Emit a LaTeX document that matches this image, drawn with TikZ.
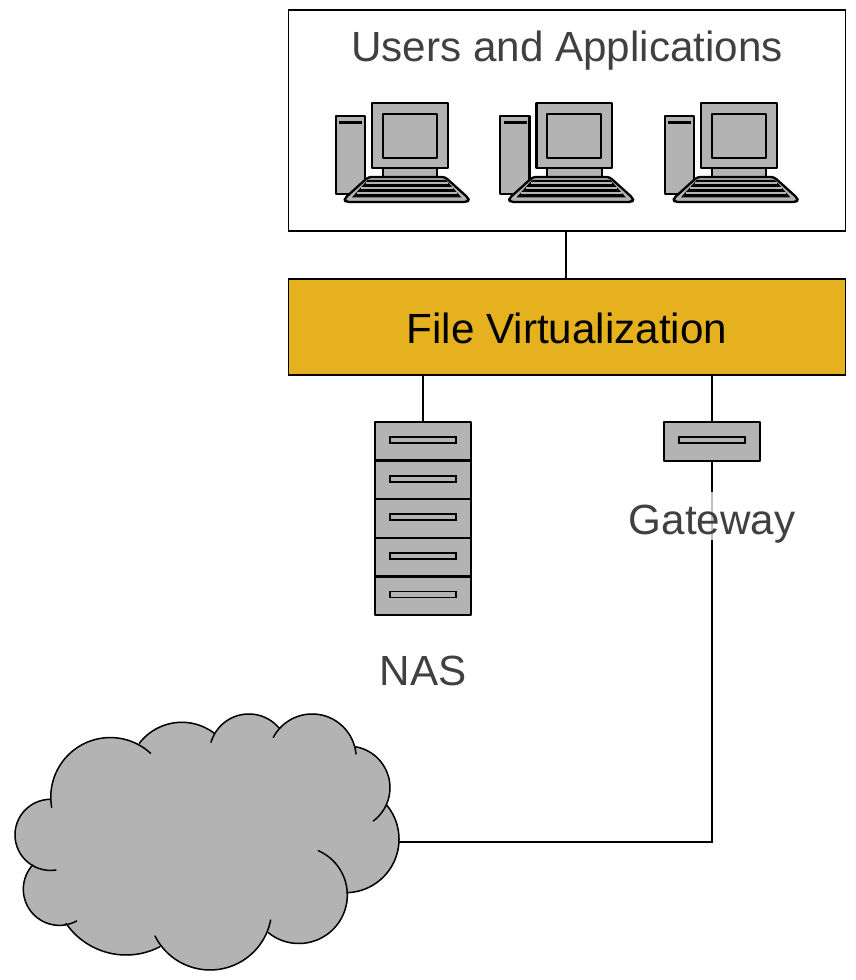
\documentclass[tikz,border=0pt]{standalone}
\usepackage{fontspec}
\setmainfont{Liberation Sans}
\definecolor{devgray}{HTML}{B3B3B3}
\definecolor{gold}{HTML}{E6B11F}
\definecolor{labelgray}{HTML}{404040}
\tikzset{
  boxstyle/.style={draw=black,line width=1.6pt,anchor=north west,inner sep=0pt,outer sep=0pt},
  dev/.style={draw=black,line width=2.3pt,fill=devgray,line join=round},
  devbox/.style={dev,rectangle,minimum width=96pt,minimum height=38.6pt,inner sep=0pt,outer sep=0pt},
  slot/.style={draw=black,line width=1.8pt,fill=devgray,rectangle,minimum width=66pt,minimum height=6pt,inner sep=0pt},
  conn/.style={draw=black,line width=1.6pt},
  lbl/.style={font=\fontsize{42.2}{48}\selectfont,text=labelgray,inner sep=0pt},
  cloudline/.style={draw=black,line width=1.5pt,line cap=round},
  cloudfill/.style={fill=devgray,draw=devgray,line width=1pt},
  pcpic/.pic={
    \begin{scope}[x=0.3333pt,y=-0.3333pt]
    \draw[dev] (47,78) rectangle (135,313);
    \fill[black] (57,92) rectangle (127,102);
    \draw[dev] (188,235) rectangle (352,265);
    \draw[dev] (156,40) rectangle (383,235);
    \draw[dev] (188,72) rectangle (350,203);
    \draw[dev,rounded corners=3pt] (145,261) -- (375,261) -- (447,326) -- (443,336) -- (77,336) -- (73,326) -- cycle;
    \fill[black] (143,270) -- (378,270) -- (424,322) -- (96,322) -- cycle;
    \foreach \ry/\ra/\rb in {276/138/384, 291/124/398, 307/110/412}
      \fill[devgray] (\ra,\ry) rectangle (\rb,\ry+6);
    \end{scope}
  }
}
% circle through three points, given in hundreds of units
\newcommand{\lobecalc}[6]{%
  \pgfmathsetmacro{\qa}{#1*#1+#2*#2}%
  \pgfmathsetmacro{\qb}{#3*#3+#4*#4}%
  \pgfmathsetmacro{\qc}{#5*#5+#6*#6}%
  \pgfmathsetmacro{\dd}{2*(#1*(#4-#6)+#3*(#6-#2)+#5*(#2-#4))}%
  \pgfmathsetmacro{\ux}{(\qa*(#4-#6)+\qb*(#6-#2)+\qc*(#2-#4))/\dd}%
  \pgfmathsetmacro{\uy}{(\qa*(#5-#3)+\qb*(#1-#5)+\qc*(#3-#1))/\dd}%
  \pgfmathsetmacro{\rr}{veclen(#1-\ux,#2-\uy)}%
  \pgfmathsetmacro{\aa}{atan2(#2-\uy,#1-\ux)}%
  \pgfmathsetmacro{\ab}{atan2(#6-\uy,#5-\ux)}%
  \pgfmathsetmacro{\ab}{\ab<\aa ? \ab+360 : \ab}%
}
\newcommand{\lobelist}{1.55/3.22/3.20/1.13/4.52/1.60,
  4.18/1.30/5.40/0.67/6.43/1.00,
  6.33/1.27/7.45/0.42/8.38/0.85,
  8.20/1.12/9.35/0.42/10.68/1.62,
  10.65/1.40/11.70/2.65/11.20/3.63,
  11.60/3.15/11.97/4.25/10.40/5.78,
  9.55/4.52/10.42/5.80/8.05/6.98,
  8.12/6.60/6.30/8.10/4.65/7.08,
  4.80/7.40/3.80/7.65/1.98/6.70,
  2.30/6.63/0.70/5.65/0.98/4.95,
  1.68/5.10/0.45/4.05/1.50/2.98}
\begin{document}
\begin{tikzpicture}[x=1pt,y=-1pt]
\useasboundingbox (0,0) rectangle (855,980);
% boxes
\node[boxstyle,minimum width=557pt,minimum height=221pt] (users) at (288.5,10) {};
\node[boxstyle,fill=gold,minimum width=557pt,minimum height=96pt] (fv) at (288.5,279) {};
\node[lbl] (userslabel) at (567,51) {Users and Applications};
\node[font=\fontsize{42.2}{48}\selectfont,text=black,inner sep=0pt] (fvlabel) at (567,328) {File Virtualization};
% computers
\foreach \s/\n in {320/a,484.5/b,649/c}
  \pic (pc\n) at (\s,90) {pcpic};
% NAS
\foreach \i/\y in {1/441.3,2/479.9,3/518.5,4/557.1,5/595.7}{
  \node[devbox] (nas\i) at (423,\y) {};
  \node[slot] (nasslot\i) at (423,\y-1.2) {};
}
\node[lbl] (naslabel) at (423,671) {NAS};
% Gateway
\node[devbox] (gw) at (712,441.5) {};
\node[slot] (gwslot) at (712,440) {};
% Cloud
\coordinate (cloudeast) at (399,842);
\coordinate (usersport) at (566,231);
\coordinate (fvport) at (566,279);
\coordinate (fvtoNas) at (423,375);
\coordinate (fvtoGw) at (712,375);
\coordinate (corner) at (712,842);
\begin{scope}[shift={(0,700)},x=0.3333pt,y=-0.3333pt]
\fill[devgray] (600,420) ellipse (500 and 280);
\foreach \xa/\ya/\xb/\yb/\xc/\yc in \lobelist {
  \lobecalc{\xa}{\ya}{\xb}{\yb}{\xc}{\yc}
  \fill[cloudfill] plot[domain=\aa:\ab,samples=40] ({100*(\ux+\rr*cos(\x))},{100*(\uy+\rr*sin(\x))}) -- (600,420) -- cycle;
}
\foreach \xa/\ya/\xb/\yb/\xc/\yc in \lobelist {
  \lobecalc{\xa}{\ya}{\xb}{\yb}{\xc}{\yc}
  \draw[cloudline] plot[domain=\aa:\ab,samples=40] ({100*(\ux+\rr*cos(\x))},{100*(\uy+\rr*sin(\x))});
}
\end{scope}
% connectors
\draw[conn] (usersport) -- (fvport);
\draw[conn] (fvtoNas) -- (nas1.north);
\draw[conn] (fvtoGw) -- (gw.north);
\draw[conn] (gw.south) -- (corner) -- (cloudeast);
% Gateway label with translucent backing
\fill[white,opacity=0.75] (629,492) rectangle (795,540);
\node[lbl] (gwlabel) at (712,524) {Gateway};
\end{tikzpicture}
\end{document}
